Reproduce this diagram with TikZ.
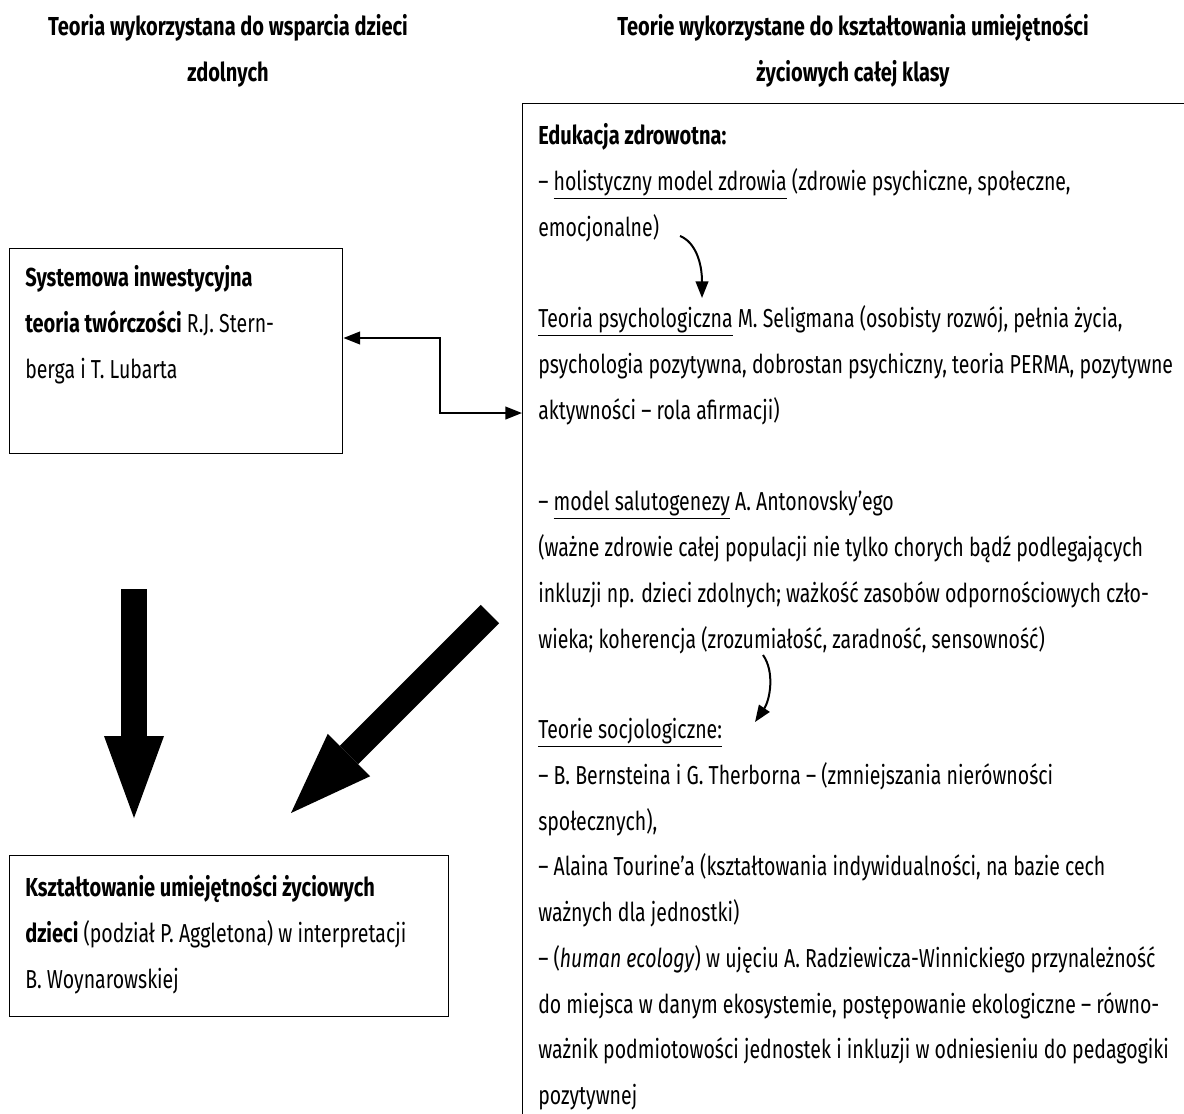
\documentclass[tikz,border=0pt]{standalone}
\usepackage{fontspec}
\setmainfont{Fira Sans}[UprightFeatures={FakeStretch=0.75},
  BoldFeatures={FakeStretch=0.77}, ItalicFeatures={FakeStretch=0.75}]
\usetikzlibrary{arrows.meta}

\newcommand{\rozmiar}{\fontsize{19.5}{34.3}\selectfont}

\tikzset{
  ramka/.style={draw, line width=1.1pt, inner sep=0pt, anchor=north west},
  tekst/.style={anchor=base west, align=left, inner sep=0pt},
  tytul/.style={anchor=base, align=center, inner sep=0pt, font=\rozmiar\bfseries},
  cienka/.style={line width=1.5pt},
  gruba/.style={line width=19.5pt, -{Triangle[length=61.5pt,width=45pt,line width=0pt]}},
  >={Triangle[length=12.5pt,width=9.5pt]}
}

\begin{document}
\begin{tikzpicture}[x=0.75pt,y=-0.75pt,font=\rozmiar]
  \useasboundingbox (0,0) rectangle (1184,1113);
  \clip (0,0) rectangle (1184,1113);

  % naglowki (kotwica = linia bazowa ostatniego wiersza)
  \node[tytul] (tytL) at (228,81) {Teoria wykorzystana do wsparcia dzieci\\zdolnych};
  \node[tytul] (tytP) at (853,81) {Teorie wykorzystane do kształtowania umiejętności\\życiowych całej klasy};

  % ramki
  \node[ramka, minimum width=249.75pt, minimum height=153.75pt] (sys) at (9,248) {};
  \node[ramka, minimum width=329.25pt, minimum height=120.75pt] (kszt) at (9,855) {};
  \node[ramka, minimum width=520pt, minimum height=780pt] (klasa) at (522,103) {};

  \node[tekst] (sysT) at ([shift={(16,130.4)}]sys.north west)
    {\textbf{Systemowa inwestycyjna}\\\textbf{teoria twórczości} R.J. Stern-\\berga i T. Lubarta};
  \node[tekst] (ksztT) at ([shift={(16,133.4)}]kszt.north west)
    {\textbf{Kształtowanie umiejętności życiowych}\\\textbf{dzieci} (podział P. Aggletona) w interpretacji\\B. Woynarowskiej};

  % prawa kolumna
  \node[tekst] (edu) at ([shift={(16,133.4)}]klasa.north west)
    {\textbf{Edukacja zdrowotna:}\\– \underline{holistyczny model zdrowia} (zdrowie psychiczne, społeczne,\\emocjonalne)};
  \node[tekst] (selig) at ([shift={(16,316.4)}]klasa.north west)
    {\underline{Teoria psychologiczna} M. Seligmana (osobisty rozwój, pełnia życia,\\psychologia pozytywna, dobrostan psychiczny, teoria PERMA, pozytywne\\aktywności – rola afirmacji)};
  \node[tekst] (saluto) at ([shift={(16,545.1)}]klasa.north west)
    {– \underline{model salutogenezy} A. Antonovsky’ego\\(ważne zdrowie całej populacji nie tylko chorych bądź podlegających\\inkluzji np. dzieci zdolnych; ważkość zasobów odpornościowych czło-\\wieka; koherencja (zrozumiałość, zaradność, sensowność)};
  \node[tekst] (socjo) at ([shift={(16,1001.6)}]klasa.north west)
    {\underline{Teorie socjologiczne:}\\– B. Bernsteina i G. Therborna – (zmniejszania nierówności\\społecznych),\\– Alaina Tourine’a (kształtowania indywidualności, na bazie cech\\ważnych dla jednostki)\\– (\textit{human ecology}) w ujęciu A. Radziewicza-Winnickiego przynależność\\do miejsca w danym ekosystemie, postępowanie ekologiczne – równo-\\ważnik podmiotowości jednostek i inkluzji w odniesieniu do pedagogiki\\pozytywnej};

  % strzalki
  \coordinate (kolano) at (440,376);
  \draw[cienka,<->] (sys.east |- 0,338) -| (kolano) |- (klasa.west |- 0,413);

  \coordinate (k1a) at (680,236);
  \coordinate (k1b) at (702,298);
  \draw[cienka,->] (k1a) .. controls (695,242) and (702,262) .. (k1b);
  \coordinate (k2a) at (763,655);
  \coordinate (k2b) at (755,722);
  \draw[cienka,->] (k2a) .. controls (775,672) and (770,700) .. (k2b);

  \coordinate (g1a) at (134,589);
  \coordinate (g1b) at (134,818);
  \coordinate (g2a) at (490,614);
  \coordinate (g2b) at (291,813);
  \draw[gruba] (g1a) -- (g1b);
  \draw[gruba] (g2a) -- (g2b);
\end{tikzpicture}
\end{document}
